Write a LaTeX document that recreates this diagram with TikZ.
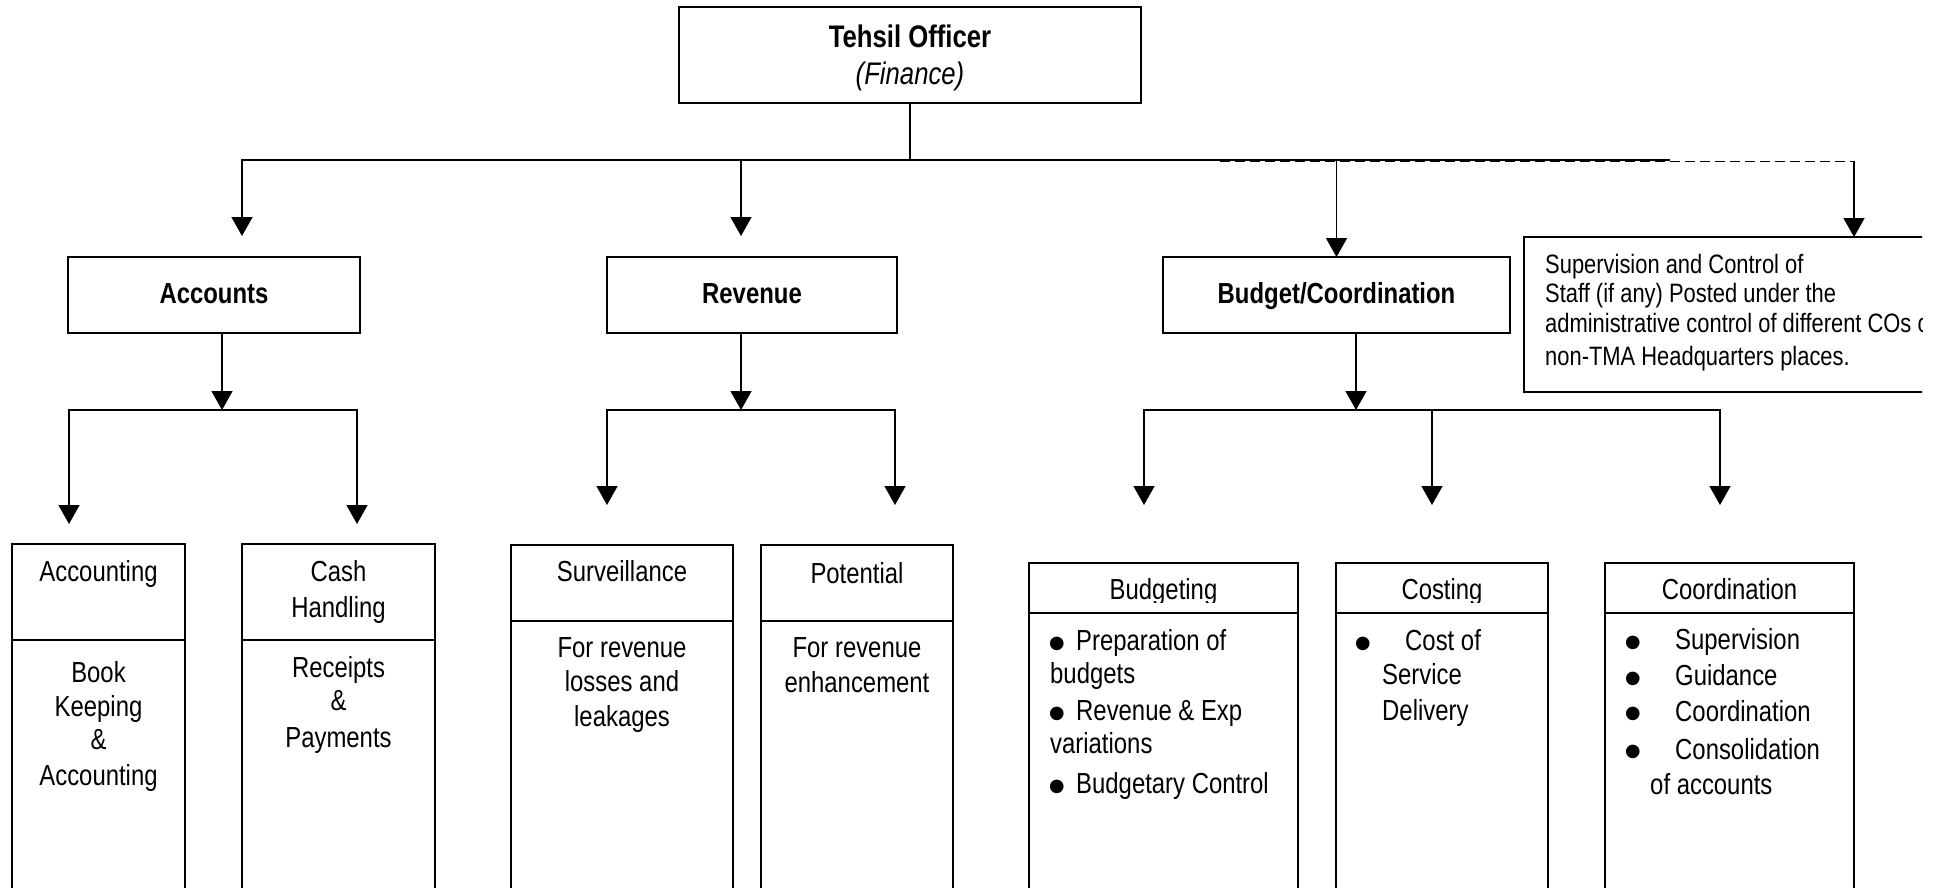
\documentclass[tikz,border=0pt]{standalone}
\usepackage{fontspec}
\setmainfont{Liberation Sans}[FakeStretch=0.824]
\newfontfamily\bulletfont{Liberation Sans}
\usetikzlibrary{arrows.meta}

% box from corner (x1,y1) to corner (x2,y2)
\newcommand\orgbox[5]{%
  \node[box, minimum width={#4-#2}, minimum height={#5-#3}] (#1) at ({(#2+#4)/2},{(#3+#5)/2}) {};}
% large list bullet that takes no vertical room
\newcommand\listdot{\smash{\textbullet}}

\tikzset{
  box/.style={draw, line width=2pt, inner sep=0pt, outer sep=0pt},
  conn/.style={line width=1.6pt, line join=miter},
  arr/.style={conn, -{Triangle[width=21pt,length=19pt]}},
  arrs/.style={conn, {Triangle[width=21pt,length=19pt]}-{Triangle[width=21pt,length=19pt]}},
  dline/.style={conn, dash pattern=on 10pt off 5pt},
  txt/.style={anchor=base, inner sep=0pt, font=\fontsize{29}{34}\selectfont},
  txtl/.style={txt, anchor=base west},
  hd/.style={txt, font=\bfseries\fontsize{29}{34}\selectfont},
  note/.style={anchor=base west, inner sep=0pt, font=\fontsize{26.6}{31}\selectfont},
  bul/.style={anchor=base, inner sep=0pt, font=\bulletfont\fontsize{50}{50}\selectfont},
}

\begin{document}
\begin{tikzpicture}[x=1pt, y=-1pt]
\useasboundingbox (0,0) rectangle (1936,888);
\clip (0,0) rectangle (1936,888);

% ---- top level ----
\orgbox{top}{679}{7}{1141}{103}
\node[txt, font=\bfseries\fontsize{31.2}{36}\selectfont] (topA) at (910,48) {Tehsil Officer};
\node[txt, font=\itshape\fontsize{31.2}{36}\selectfont] (topB) at (910,85) {(Finance)};

% ---- second level ----
\orgbox{acc}{68}{257}{360}{333}
\orgbox{rev}{607}{257}{897}{333}
\orgbox{bud}{1163}{257}{1510}{333}
\node[hd] (accT) at (214,303) {Accounts};
\node[hd] (revT) at (752,303) {Revenue};
\node[hd] (budT) at (1336.5,303) {Budget/Coordination};

\begin{scope}
  \clip (1500,200) rectangle (1922,420);
  \orgbox{sup}{1524}{237}{1990}{392}
  \node[note] (sup1) at (1545,273) {Supervision and Control of};
  \node[note] (sup2) at (1545,302) {Staff (if any) Posted under the};
  \node[note] (sup3) at (1545,332) {administrative control of different COs or};
  \node[note] (sup4) at (1545,365) {non-TMA Headquarters places.};
\end{scope}

% ---- third level ----
\orgbox{acg}{12}{544}{185}{930}
\orgbox{cash}{242}{544}{435}{930}
\orgbox{surv}{511}{545}{733}{930}
\orgbox{pot}{761}{545}{953}{930}
\orgbox{bgt}{1029}{563}{1298}{930}
\orgbox{cst}{1336}{563}{1548}{930}
\orgbox{crd}{1605}{563}{1854}{930}

\coordinate (dA) at (0,640);
\coordinate (dR) at (0,621);
\coordinate (dB) at (0,613);
\draw[box] (acg.west |- dA) -- (acg.east |- dA);
\draw[box] (cash.west |- dA) -- (cash.east |- dA);
\draw[box] (surv.west |- dR) -- (surv.east |- dR);
\draw[box] (pot.west |- dR) -- (pot.east |- dR);
\draw[box] (bgt.west |- dB) -- (bgt.east |- dB);
\draw[box] (cst.west |- dB) -- (cst.east |- dB);
\draw[box] (crd.west |- dB) -- (crd.east |- dB);

% Accounts branch
\node[txt] (acg1) at (98.5,581) {Accounting};
\node[txt] (acg2) at (98.5,682) {Book};
\node[txt] (acg3) at (98.5,716) {Keeping};
\node[txt] (acg4) at (98.5,749) {\&};
\node[txt] (acg5) at (98.5,785) {Accounting};
\node[txt] (cash1) at (338.5,581) {Cash};
\node[txt] (cash2) at (338.5,617) {Handling};
\node[txt] (cash3) at (338.5,677) {Receipts};
\node[txt] (cash4) at (338.5,710) {\&};
\node[txt] (cash5) at (338.5,747) {Payments};

% Revenue branch
\node[txt] (surv1) at (622,581) {Surveillance};
\node[txt] (surv2) at (622,657) {For revenue};
\node[txt] (surv3) at (622,691) {losses and};
\node[txt] (surv4) at (622,726) {leakages};
\node[txt] (pot1) at (857,583) {Potential};
\node[txt] (pot2) at (857,657) {For revenue};
\node[txt] (pot3) at (857,692) {enhancement};

% Budget branch (headings sit tight on the divider)
\begin{scope}
  \clip (1000,560) rectangle (1900,602);
  \node[txt] (bgt1) at (1163.5,599) {Budgeting};
  \node[txt] (cst1) at (1442,599) {Costing};
  \node[txt] (crd1) at (1729.5,599) {Coordination};
\end{scope}

\node[bul] (bgtB1) at (1057,660) {\listdot};
\node[txtl] (bgt2) at (1076,650) {Preparation of};
\node[txtl] (bgt3) at (1050,683) {budgets};
\node[bul] (bgtB2) at (1057,730) {\listdot};
\node[txtl] (bgt4) at (1076,720) {Revenue \& Exp};
\node[txtl] (bgt5) at (1050,753) {variations};
\node[bul] (bgtB3) at (1057,803) {\listdot};
\node[txtl] (bgt6) at (1076,793) {Budgetary Control};

\node[bul] (cstB1) at (1363,660) {\listdot};
\node[txtl] (cst2) at (1405,650) {Cost of};
\node[txtl] (cst3) at (1382,684) {Service};
\node[txtl] (cst4) at (1382,720) {Delivery};

\node[bul] (crdB1) at (1633,659.5) {\listdot};
\node[txtl] (crd2) at (1675,649) {Supervision};
\node[bul] (crdB2) at (1633,695.5) {\listdot};
\node[txtl] (crd3) at (1675,685) {Guidance};
\node[bul] (crdB3) at (1633,730.5) {\listdot};
\node[txtl] (crd4) at (1675,721) {Coordination};
\node[bul] (crdB4) at (1633,768.5) {\listdot};
\node[txtl] (crd5) at (1675,759) {Consolidation};
\node[txtl] (crd6) at (1650,794) {of accounts};

% ---- connectors from the top ----
\coordinate (hub) at (910,160);
\coordinate (jA) at (242,160);
\coordinate (tA) at (242,236);
\coordinate (jR) at (741,160);
\coordinate (tR) at (741,236);
\coordinate (jE) at (1670,160);
\coordinate (dS) at (1220,161.5);
\coordinate (dE) at (1854,161.5);

\draw[conn] (top.south) -- (hub);
\draw[arr] (jE) -- (jA) -- (tA);
\draw[arr] (jR) -- (tR);
\draw[arr] (bud.north |- hub) -- (bud.north);
\draw[dline] (dS) -- (dE);
\draw[arr] (dE) -- (sup.north -| dE);

% ---- connectors below Accounts ----
\coordinate (aS) at (222,410);
\coordinate (aL) at (69,410);
\coordinate (aR) at (357,410);
\coordinate (aLt) at (69,524);
\coordinate (aRt) at (357,524);
\draw[arr] (acc.south -| aS) -- (aS);
\draw[arrs] (aLt) -- (aL) -- (aR) -- (aRt);

% ---- connectors below Revenue ----
\coordinate (rS) at (741,410);
\coordinate (rL) at (607,410);
\coordinate (rR) at (895,410);
\coordinate (rLt) at (607,505);
\coordinate (rRt) at (895,505);
\draw[arr] (rev.south -| rS) -- (rS);
\draw[arrs] (rLt) -- (rL) -- (rR) -- (rRt);

% ---- connectors below Budget/Coordination ----
\coordinate (bS) at (1356,410);
\coordinate (bL) at (1144,410);
\coordinate (bM) at (1432,410);
\coordinate (bR) at (1720,410);
\coordinate (bLt) at (1144,505);
\coordinate (bMt) at (1432,505);
\coordinate (bRt) at (1720,505);
\draw[arr] (bud.south -| bS) -- (bS);
\draw[arrs] (bLt) -- (bL) -- (bR) -- (bRt);
\draw[arr] (bM) -- (bMt);
\end{tikzpicture}
\end{document}
